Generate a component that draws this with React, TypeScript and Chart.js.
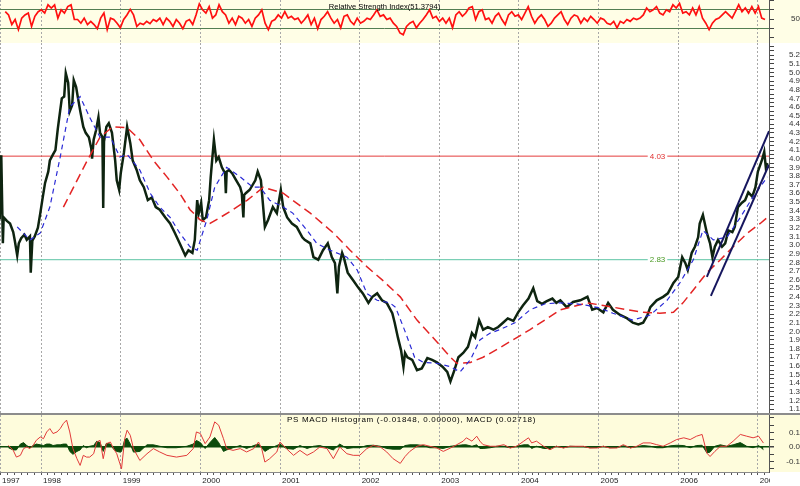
import React, { useEffect, useRef } from "react";
import { Chart, registerables } from "chart.js";

Chart.register(...registerables);

// ---------- time axis ----------
const X_MIN = 1997.484;
const X_MAX = 2007.14;
const FIRST_YEAR_LABEL = "1997";
const YEAR_TICKS = [1998, 1999, 2000, 2001, 2002, 2003, 2004, 2005, 2006, 2007];

// ---------- titles ----------
const RSI_TITLE = "Relative Strength Index(51.3794)";
const MACD_TITLE = "PS MACD Histogram (-0.01848, 0.00000), MACD (0.02718)";

// ---------- price panel ----------
const priceDates = [
  1997.48, 1997.50, 1997.52, 1997.53, 1997.57, 1997.61, 1997.65, 1997.67, 1997.70, 1997.72,
  1997.75, 1997.79, 1997.82, 1997.86, 1997.87, 1997.89, 1997.92, 1997.96, 1997.99, 1998.02,
  1998.05, 1998.09, 1998.11, 1998.15, 1998.18, 1998.21, 1998.24, 1998.26, 1998.29, 1998.31,
  1998.34, 1998.36, 1998.39, 1998.41, 1998.44, 1998.46, 1998.49, 1998.53, 1998.56, 1998.60,
  1998.63, 1998.64, 1998.66, 1998.69, 1998.72, 1998.74, 1998.77, 1998.78, 1998.79, 1998.82,
  1998.85, 1998.89, 1998.93, 1998.95, 1998.98, 1999.00, 1999.04, 1999.08, 1999.12, 1999.15,
  1999.20, 1999.24, 1999.29, 1999.34, 1999.39, 1999.44, 1999.49, 1999.56, 1999.62, 1999.68,
  1999.74, 1999.81, 1999.85, 1999.90, 1999.93, 1999.96, 1999.98, 2000.01, 2000.03, 2000.07,
  2000.11, 2000.13, 2000.17, 2000.20, 2000.23, 2000.27, 2000.31, 2000.32, 2000.33, 2000.36,
  2000.40, 2000.45, 2000.50, 2000.52, 2000.54, 2000.55, 2000.57, 2000.62, 2000.69, 2000.72,
  2000.76, 2000.81, 2000.85, 2000.91, 2000.96, 2001.01, 2001.04, 2001.09, 2001.15, 2001.21,
  2001.28, 2001.31, 2001.38, 2001.42, 2001.48, 2001.54, 2001.60, 2001.65, 2001.69, 2001.72,
  2001.74, 2001.78, 2001.80, 2001.85, 2001.92, 2001.98, 2002.04, 2002.11, 2002.16, 2002.22,
  2002.28, 2002.34, 2002.41, 2002.44, 2002.48, 2002.52, 2002.55, 2002.57, 2002.60, 2002.66,
  2002.72, 2002.78, 2002.85, 2002.91, 2002.97, 2003.04, 2003.10, 2003.14, 2003.19, 2003.24,
  2003.30, 2003.36, 2003.41, 2003.45, 2003.50, 2003.55, 2003.61, 2003.68, 2003.74, 2003.80,
  2003.86, 2003.93, 2003.99, 2004.05, 2004.12, 2004.18, 2004.23, 2004.29, 2004.35, 2004.42,
  2004.47, 2004.52, 2004.60, 2004.68, 2004.77, 2004.86, 2004.92, 2004.98, 2005.06, 2005.12,
  2005.18, 2005.27, 2005.36, 2005.43, 2005.50, 2005.56, 2005.61, 2005.65, 2005.73, 2005.81,
  2005.87, 2005.94, 2006.00, 2006.05, 2006.09, 2006.12, 2006.17, 2006.21, 2006.25, 2006.27,
  2006.31, 2006.36, 2006.40, 2006.43, 2006.46, 2006.50, 2006.55, 2006.59, 2006.63, 2006.68,
  2006.71, 2006.75, 2006.80, 2006.84, 2006.88, 2006.93, 2006.97, 2007.00, 2007.05, 2007.08,
  2007.10, 2007.12,
];
const priceValues = [
  3.30, 4.04, 3.02, 3.32, 3.28, 3.25, 3.15, 3.05, 2.88, 3.02,
  3.08, 3.12, 3.06, 3.10, 2.68, 3.05, 3.10, 3.20, 3.37, 3.55,
  3.72, 3.85, 3.98, 4.05, 4.10, 4.35, 4.56, 4.70, 4.72, 4.99,
  4.88, 4.55, 4.62, 4.91, 4.83, 4.72, 4.56, 4.37, 4.30, 4.25,
  4.12, 4.00, 4.22, 4.33, 4.48, 4.30, 4.25, 3.43, 4.20, 4.37,
  4.41, 4.30, 3.98, 3.75, 3.64, 3.83, 4.07, 4.37, 4.18, 3.98,
  3.87, 3.75, 3.67, 3.52, 3.55, 3.44, 3.41, 3.32, 3.25, 3.14,
  3.02, 2.88, 2.94, 2.91, 3.06, 3.52, 3.37, 3.49, 3.29, 3.32,
  3.52, 3.79, 4.22, 3.98, 4.02, 3.90, 3.83, 3.60, 3.85, 3.87,
  3.83, 3.75, 3.67, 3.60, 3.32, 3.58, 3.60, 3.64, 3.75, 3.85,
  3.75, 3.21, 3.29, 3.44, 3.37, 3.64, 3.44, 3.32, 3.25, 3.21,
  3.09, 3.06, 3.02, 2.86, 2.83, 2.94, 3.02, 2.86, 2.79, 2.44,
  2.75, 2.91, 2.86, 2.68, 2.59, 2.51, 2.44, 2.33, 2.40, 2.44,
  2.36, 2.33, 2.21, 2.10, 1.93, 1.78, 1.59, 1.75, 1.70, 1.67,
  1.55, 1.57, 1.69, 1.67, 1.64, 1.59, 1.53, 1.42, 1.55, 1.70,
  1.75, 1.82, 1.98, 1.93, 2.13, 2.02, 2.05, 2.02, 2.05, 2.10,
  2.15, 2.12, 2.22, 2.30, 2.38, 2.50, 2.35, 2.32, 2.35, 2.38,
  2.33, 2.36, 2.28, 2.34, 2.36, 2.40, 2.25, 2.27, 2.22, 2.33,
  2.25, 2.19, 2.15, 2.10, 2.08, 2.10, 2.18, 2.28, 2.36, 2.40,
  2.44, 2.56, 2.63, 2.86, 2.79, 2.71, 2.91, 2.98, 3.09, 3.25,
  3.35, 3.14, 3.02, 2.86, 2.98, 3.06, 2.98, 3.02, 3.17, 3.15,
  3.21, 3.44, 3.49, 3.52, 3.61, 3.56, 3.67, 3.85, 3.98, 4.08,
  3.90, 3.95,
];

const shortMaDates = [
  1997.70, 1997.86, 1997.99, 1998.11, 1998.24, 1998.36, 1998.49, 1998.61, 1998.74, 1998.87,
  1998.99, 1999.08, 1999.24, 1999.37, 1999.49, 1999.62, 1999.74, 1999.87, 1999.96, 2000.08,
  2000.18, 2000.33, 2000.50, 2000.66, 2000.75, 2000.87, 2001.04, 2001.16, 2001.34, 2001.46,
  2001.63, 2001.84, 2001.97, 2002.09, 2002.22, 2002.38, 2002.45, 2002.57, 2002.69, 2002.80,
  2002.97, 2003.14, 2003.26, 2003.39, 2003.51, 2003.64, 2003.76, 2003.95, 2004.14, 2004.33,
  2004.52, 2004.71, 2004.86, 2005.02, 2005.18, 2005.43, 2005.65, 2005.86, 2006.02, 2006.19,
  2006.31, 2006.44, 2006.61, 2006.78, 2006.94, 2007.12,
];
const shortMaValues = [
  3.21, 3.06, 3.14, 3.44, 4.02, 4.60, 4.72, 4.48, 4.25, 4.25,
  4.02, 4.05, 3.87, 3.60, 3.44, 3.32, 3.14, 2.98, 2.94, 3.29,
  3.67, 3.90, 3.79, 3.67, 3.67, 3.52, 3.44, 3.37, 3.17, 3.02,
  2.94, 2.86, 2.71, 2.44, 2.36, 2.33, 2.28, 2.00, 1.70, 1.64,
  1.63, 1.59, 1.53, 1.67, 1.90, 1.98, 2.02, 2.10, 2.25, 2.32,
  2.33, 2.32, 2.30, 2.27, 2.21, 2.13, 2.19, 2.36, 2.56, 2.83,
  3.17, 3.06, 3.09, 3.32, 3.56, 3.79,
];

const longMaDates = [
  1998.28, 1998.58, 1998.74, 1998.90, 1999.08, 1999.24, 1999.41, 1999.58, 1999.74, 1999.87,
  2000.00, 2000.12, 2000.25, 2000.41, 2000.59, 2000.79, 2001.04, 2001.38, 2001.67, 2001.88,
  2002.09, 2002.29, 2002.51, 2002.72, 2002.92, 2003.14, 2003.22, 2003.39, 2003.55, 2003.76,
  2004.14, 2004.52, 2004.86, 2005.06, 2005.36, 2005.56, 2005.77, 2005.94, 2006.06, 2006.19,
  2006.36, 2006.53, 2006.69, 2006.87, 2007.03, 2007.12,
];
const longMaValues = [
  3.44, 3.98, 4.25, 4.37, 4.36, 4.22, 3.98, 3.79, 3.60, 3.41,
  3.29, 3.25, 3.32, 3.41, 3.52, 3.67, 3.60, 3.37, 3.14, 2.94,
  2.75, 2.59, 2.40, 2.13, 1.93, 1.70, 1.63, 1.64, 1.70, 1.81,
  2.02, 2.25, 2.33, 2.30, 2.25, 2.22, 2.21, 2.22, 2.33, 2.48,
  2.68, 2.83, 2.98, 3.14, 3.25, 3.32,
];

const RESISTANCE = 4.03;
const SUPPORT = 2.83;
const LEVEL_LABEL_AT = 2005.74;

const upperChannelDates = [2006.36, 2007.14];
const upperChannelValues = [2.63, 4.32];
const lowerChannelDates = [2006.41, 2007.14];
const lowerChannelValues = [2.41, 3.93];

const PRICE_MIN = 1.054;
const PRICE_MAX = 5.341;

// ---------- RSI panel ----------
const RSI_START = 1997.55;
const RSI_END = 2007.09;
const rsiValues = [
  66, 59, 38, 49, 27, 52, 59, 63, 34, 56,
  66, 70, 63, 81, 74, 81, 52, 70, 63, 77,
  81, 49, 49, 41, 52, 38, 45, 38, 29, 52,
  63, 27, 52, 49, 41, 31, 49, 59, 71, 59,
  34, 41, 38, 45, 40, 49, 45, 52, 38, 52,
  45, 34, 49, 41, 29, 45, 49, 38, 59, 83,
  70, 63, 77, 52, 59, 81, 66, 59, 41, 52,
  38, 56, 52, 41, 49, 34, 52, 59, 70, 41,
  27, 45, 49, 59, 52, 66, 52, 56, 49, 52,
  41, 49, 59, 38, 52, 29, 49, 56, 66, 52,
  41, 49, 31, 56, 59, 45, 38, 52, 41, 45,
  52, 49, 59, 70, 56, 59, 49, 52, 41, 34,
  20,
  16, 34, 41, 45, 31, 41, 49, 59, 70, 52,
  56, 45, 52, 41, 52, 31, 59, 66, 56, 63,
  74, 77, 49, 66, 70, 49, 52, 41, 56, 63,
  49, 38, 59, 66, 56, 59, 49, 63, 77, 56,
  41, 52, 59, 49, 34, 41, 52, 59, 66, 49,
  38, 52, 59, 56, 41, 52, 45, 56, 49, 41,
  52, 49, 41, 38, 45, 31, 45, 41, 49, 45,
  52, 49, 52, 59, 74, 66, 70, 77, 63, 59,
  70, 66, 81, 74, 84, 63, 66, 59, 74, 59,
  77, 52, 41, 27, 41, 49, 52, 59, 66, 59,
  52, 66, 81, 66, 74, 63, 77, 63, 77, 52,
  49,
];
const RSI_MIN = -2;
const RSI_MAX = 91.4;
const RSI_TICKS = [10, 30, 50, 70, 90];
const RSI_BANDS = [30, 70];
const RSI_LABELS = ["50"];

// ---------- MACD panel ----------
const macdDates = [
  1997.59, 1997.65, 1997.69, 1997.74, 1997.78, 1997.82, 1997.86, 1997.90, 1997.94, 1997.99,
  1998.03, 1998.07, 1998.11, 1998.15, 1998.20, 1998.24, 1998.28, 1998.32, 1998.36, 1998.40,
  1998.45, 1998.49, 1998.53, 1998.57, 1998.61, 1998.66, 1998.70, 1998.74, 1998.78, 1998.82,
  1998.87, 1998.91, 1998.95, 1998.99, 1999.01, 1999.05, 1999.08, 1999.12, 1999.16, 1999.24,
  1999.33, 1999.41, 1999.49, 1999.58, 1999.70, 1999.83, 1999.91, 1999.95, 2000.00, 2000.06,
  2000.12, 2000.18, 2000.23, 2000.29, 2000.33, 2000.41, 2000.50, 2000.58, 2000.67, 2000.73,
  2000.77, 2000.81, 2000.87, 2000.96, 2001.00, 2001.08, 2001.17, 2001.25, 2001.34, 2001.42,
  2001.50, 2001.59, 2001.67, 2001.75, 2001.84, 2001.92, 2002.00, 2002.09, 2002.17, 2002.26,
  2002.34, 2002.42, 2002.51, 2002.57, 2002.63, 2002.72, 2002.80, 2002.88, 2002.97, 2003.05,
  2003.14, 2003.22, 2003.30, 2003.34, 2003.41, 2003.47, 2003.51, 2003.55, 2003.64, 2003.72,
  2003.81, 2003.89, 2003.97, 2004.06, 2004.12, 2004.16, 2004.22, 2004.31, 2004.39, 2004.47,
  2004.56, 2004.64, 2004.73, 2004.81, 2004.89, 2004.98, 2005.06, 2005.14, 2005.23, 2005.31,
  2005.40, 2005.48, 2005.56, 2005.65, 2005.73, 2005.81, 2005.90, 2005.98, 2006.07, 2006.15,
  2006.23, 2006.30, 2006.36, 2006.40, 2006.46, 2006.53, 2006.61, 2006.69, 2006.78, 2006.86,
  2006.94, 2007.01, 2007.07,
];
const macdValues = [
  0.011, -0.023, -0.069, -0.057, -0.011, 0.000, -0.011, 0.011, 0.046, 0.069,
  0.057, 0.103, 0.126, 0.092, 0.103, 0.126, 0.161, 0.184, 0.103, -0.011,
  -0.080, -0.126, -0.057, -0.069, -0.069, -0.046, 0.034, 0.046, -0.080, 0.023,
  0.034, -0.011, -0.046, -0.115, -0.149, 0.057, 0.115, 0.080, -0.011, -0.092,
  -0.046, -0.011, -0.034, -0.057, -0.069, -0.057, -0.011, 0.103, 0.092, 0.023,
  0.069, 0.172, 0.149, 0.057, -0.011, -0.023, -0.011, -0.034, -0.011, 0.034,
  -0.011, -0.103, -0.080, -0.034, 0.034, -0.011, -0.057, -0.023, -0.057, -0.034,
  0.000, -0.011, -0.080, 0.000, -0.046, -0.057, -0.057, -0.011, 0.011, 0.000,
  -0.034, -0.080, -0.112, -0.065, -0.030, 0.005, 0.016, 0.005, -0.007, -0.030,
  -0.007, 0.016, 0.040, 0.063, 0.040, 0.074, 0.040, 0.016, 0.005, 0.005,
  0.016, -0.007, 0.005, 0.040, 0.063, 0.028, 0.040, 0.005, -0.019, 0.005,
  -0.007, 0.005, 0.005, 0.005, -0.007, -0.007, 0.005, -0.007, -0.007, 0.016,
  -0.007, 0.005, 0.028, 0.028, 0.016, 0.005, 0.028, 0.051, 0.063, 0.051,
  0.074, 0.086, -0.042, -0.065, -0.030, 0.005, 0.005, 0.040, 0.086, 0.074,
  0.063, 0.074, 0.027,
];
const histogramValues = [
  -0.005, -0.02, -0.02, 0.02, 0.03, 0.01, -0.005, 0.01, 0.02, 0.015,
  0.01, 0.02, 0.02, 0.01, 0.015, 0.015, 0.02, 0.02, -0.03, -0.05,
  -0.03, -0.02, 0.01, -0.005, 0.005, 0.01, 0.04, 0.03, -0.03, 0.025,
  0.02, -0.015, -0.03, -0.035, -0.03, 0.05, 0.06, 0.02, -0.035, -0.03,
  0.015, 0.015, 0.005, -0.005, -0.005, 0.005, 0.02, 0.045, 0.03, -0.01,
  0.03, 0.065, 0.03, -0.03, -0.02, -0.005, 0.01, -0.01, 0.01, 0.02,
  -0.005, -0.03, -0.01, 0.01, 0.02, -0.01, -0.015, 0.01, -0.01, 0.005,
  0.01, -0.005, -0.02, 0.02, -0.01, -0.005, -0.005, 0.01, 0.012, 0.005,
  -0.01, -0.015, -0.015, 0.01, 0.015, 0.015, 0.01, -0.005, -0.005, -0.01,
  0.005, 0.01, 0.015, 0.015, 0.005, 0.015, -0.01, -0.01, -0.005, 0.005,
  0.005, -0.005, 0.005, 0.015, 0.015, -0.01, 0.005, -0.01, -0.01, 0.005,
  -0.005, 0.005, 0.003, 0.003, -0.005, -0.003, 0.005, -0.005, -0.003, 0.008,
  -0.005, 0.003, 0.01, 0.005, -0.005, -0.005, 0.008, 0.012, 0.01, -0.005,
  0.01, 0.012, -0.04, -0.035, 0.005, 0.015, 0.005, 0.015, 0.03, 0.005,
  -0.005, 0.01, -0.018,
];
const MACD_MIN = -0.171;
const MACD_MAX = 0.219;
const MACD_TICKS = [-0.15, -0.1, -0.05, 0, 0.05, 0.1, 0.15, 0.2];
const MACD_LABELS: [number, string][] = [[-0.1, "-0.1"], [0, "0.0"], [0.1, "0.1"]];

// ---------- price axis ----------
const PRICE_TICK_FIRST = 1.1;
const PRICE_TICK_LAST = 5.3;
const PRICE_LABEL_LAST = 5.2;

// ---------- styling ----------
const FONT = '"Liberation Sans", Arial, sans-serif';
const NONE = "rgba(0,0,0,0)";

const near = (a: number, b: number, eps = 1e-6) => Math.abs(a - b) < eps;
const pairs = (xs: number[], ys: number[]) => xs.map((x, i) => ({ x, y: ys[i] }));
const isYearTick = (v: number) => near(v, X_MIN) || YEAR_TICKS.some((y) => near(y, v));

function monthTicks() {
  const out: { value: number }[] = [{ value: X_MIN }];
  for (let k = 0; k < 12 * 11; k++) {
    const v = 1997 + k / 12;
    if (v > X_MIN + 0.03 && v <= X_MAX) {
      const yr = YEAR_TICKS.find((y) => near(y, v, 1e-4));
      out.push({ value: yr ?? v });
    }
  }
  return out;
}

function timeScale(withLabels: boolean) {
  return {
    type: "linear",
    min: X_MIN,
    max: X_MAX,
    bounds: "data",
    offset: false,
    afterBuildTicks: (s: any) => {
      s.ticks = withLabels
        ? monthTicks()
        : [{ value: X_MIN }, ...YEAR_TICKS.map((v) => ({ value: v }))];
    },
    afterFit: (s: any) => {
      s.height = withLabels ? 14 : 0;
      s.paddingLeft = 0;
      s.paddingRight = 0;
    },
    grid: {
      display: true,
      drawOnChartArea: true,
      drawTicks: withLabels,
      tickLength: 3,
      lineWidth: 1,
      color: (c: any) => (c.tick && isYearTick(c.tick.value) ? "#a8a8a8" : NONE),
      tickColor: "#555",
    },
    border: { display: withLabels, color: "#8a8a8a", width: 1, dash: [2, 2] },
    ticks: {
      display: withLabels,
      autoSkip: false,
      maxRotation: 0,
      minRotation: 0,
      align: "start",
      labelOffset: 2,
      padding: 1,
      color: "#222",
      font: { family: FONT, size: 8 },
      callback: (v: number) => {
        if (near(v, X_MIN)) return FIRST_YEAR_LABEL;
        const yr = YEAR_TICKS.find((y) => near(y, v));
        return yr !== undefined ? String(yr) : "";
      },
    },
  };
}

function valueScale(
  min: number,
  max: number,
  ticks: number[],
  label: (v: number) => string,
  padding: number,
  gridColor?: (v: number) => string,
  gridWidth?: (v: number) => number
) {
  return {
    type: "linear",
    position: "right",
    min,
    max,
    bounds: "data",
    afterBuildTicks: (s: any) => {
      s.ticks = ticks.map((v) => ({ value: v }));
    },
    afterFit: (s: any) => {
      s.width = 31;
      s.paddingTop = 0;
      s.paddingBottom = 0;
    },
    grid: {
      drawOnChartArea: !!gridColor,
      drawTicks: true,
      tickLength: 5,
      tickColor: "#444",
      color: (c: any) => (gridColor && c.tick ? gridColor(c.tick.value) : NONE),
      lineWidth: (c: any) => (gridWidth && c.tick ? gridWidth(c.tick.value) : 1),
    },
    border: { display: true, color: "#555", width: 1 },
    ticks: {
      autoSkip: false,
      padding,
      crossAlign: "far",
      color: "#333",
      font: { family: FONT, size: 8 },
      callback: (v: number) => label(v),
    },
  };
}

const decorPlugin = {
  id: "decor",
  beforeDraw(chart: any, _a: any, o: any) {
    const { ctx, chartArea, width, height } = chart;
    if (o.bg) {
      ctx.save();
      ctx.fillStyle = o.bg;
      ctx.fillRect(0, 0, width, o.bgToAxis ? chartArea.bottom : height);
      ctx.restore();
    }
    if (o.clip) {
      ctx.save();
      ctx.beginPath();
      ctx.rect(0, 0, chartArea.right + 1, height);
      ctx.rect(chartArea.right + 1, 0, width - chartArea.right, chartArea.bottom + 1);
      ctx.clip();
    }
  },
  afterDatasetsDraw(chart: any, _a: any, o: any) {
    if (!o.levels) return;
    const { ctx, scales } = chart;
    ctx.save();
    ctx.font = `8px ${FONT}`;
    ctx.textAlign = "center";
    ctx.textBaseline = "middle";
    for (const lv of o.levels) {
      const x = scales.x.getPixelForValue(lv.at);
      const y = scales.y.getPixelForValue(lv.value);
      const t = lv.value.toFixed(2);
      const w = ctx.measureText(t).width;
      ctx.fillStyle = "#ffffff";
      ctx.fillRect(x - w / 2 - 2, y - 4, w + 4, 8);
      ctx.fillStyle = lv.color;
      ctx.fillText(t, x, y + 0.5);
    }
    ctx.restore();
  },
  afterDraw(chart: any, _a: any, o: any) {
    const { ctx, chartArea } = chart;
    if (o.clip) ctx.restore();
    if (o.title) {
      ctx.save();
      ctx.font = `${o.titleSize || 8}px ${FONT}`;
      if (o.spacing) (ctx as any).letterSpacing = o.spacing;
      ctx.fillStyle = "#000";
      ctx.textAlign = "center";
      ctx.textBaseline = "middle";
      ctx.fillText(o.title, (chartArea.left + chartArea.right) / 2 + (o.dx || 0), o.ty);
      ctx.restore();
    }
  },
};

function baseOptions(decor: any, scales: any) {
  return {
    responsive: false,
    animation: false,
    events: [],
    layout: { padding: 0 },
    elements: { point: { radius: 0 }, line: { tension: 0 } },
    plugins: { legend: { display: false }, tooltip: { enabled: false }, decor },
    scales,
  };
}

const lineDs = (label: string, data: any[], color: string, width: number, order: number, extra: any = {}) => ({
  label,
  data,
  borderColor: color,
  backgroundColor: color,
  borderWidth: width,
  pointRadius: 0,
  fill: false,
  order,
  ...extra,
});

export default function App() {
  const rsiRef = useRef<HTMLCanvasElement>(null);
  const mainRef = useRef<HTMLCanvasElement>(null);
  const macdRef = useRef<HTMLCanvasElement>(null);

  useEffect(() => {
    const charts: Chart[] = [];

    const rsiPoints = rsiValues.map((v, i) => ({
      x: RSI_START + (i * (RSI_END - RSI_START)) / (rsiValues.length - 1),
      y: v,
    }));

    charts.push(
      new Chart(rsiRef.current as HTMLCanvasElement, {
        type: "line",
        data: { datasets: [lineDs("RSI", rsiPoints, "#ff1010", 1.7, 0)] },
        options: baseOptions(
          { bg: "#fffee6", title: RSI_TITLE, ty: 7, titleSize: 7.6 },
          {
            x: timeScale(false),
            y: valueScale(
              RSI_MIN,
              RSI_MAX,
              RSI_TICKS,
              (v) => (RSI_LABELS.includes(String(v)) ? String(v) : ""),
              13,
              (v) => (RSI_BANDS.some((b) => near(b, v)) ? "#527e52" : NONE),
              () => 1
            ),
          }
        ),
        plugins: [decorPlugin],
      } as any)
    );

    const priceTicks: number[] = [];
    for (let k = Math.round(PRICE_TICK_FIRST * 20); k <= Math.round(PRICE_TICK_LAST * 20); k++) priceTicks.push(k / 20);

    charts.push(
      new Chart(mainRef.current as HTMLCanvasElement, {
        type: "line",
        data: {
          datasets: [
            lineDs("Upper channel", pairs(upperChannelDates, upperChannelValues), "#16165e", 2, 0),
            lineDs("Lower channel", pairs(lowerChannelDates, lowerChannelValues), "#16165e", 2, 0),
            lineDs("Short MA", pairs(shortMaDates, shortMaValues), "#2a2ad6", 1.2, 1, { borderDash: [5, 4] }),
            lineDs("Long MA", pairs(longMaDates, longMaValues), "#e32424", 1.5, 2, { borderDash: [9, 5] }),
            lineDs("Price", pairs(priceDates, priceValues), "#0e2410", 2.5, 3),
            lineDs("Resistance", [{ x: X_MIN, y: RESISTANCE }, { x: X_MAX, y: RESISTANCE }], "#e43c3c", 1, 4),
            lineDs("Support", [{ x: X_MIN, y: SUPPORT }, { x: X_MAX, y: SUPPORT }], "#5cc4a4", 1, 4),
          ],
        },
        options: baseOptions(
          {
            levels: [
              { value: RESISTANCE, at: LEVEL_LABEL_AT, color: "#e03030" },
              { value: SUPPORT, at: LEVEL_LABEL_AT, color: "#4a9a24" },
            ],
          },
          {
            x: timeScale(false),
            y: valueScale(
              PRICE_MIN,
              PRICE_MAX,
              priceTicks,
              (v) => {
                const t = Math.round(v * 10);
                return near(t, v * 10, 1e-4) && v <= PRICE_LABEL_LAST + 1e-6 ? v.toFixed(1) : "";
              },
              11
            ),
          }
        ),
        plugins: [decorPlugin],
      } as any)
    );

    charts.push(
      new Chart(macdRef.current as HTMLCanvasElement, {
        type: "line",
        data: {
          datasets: [
            lineDs("MACD", pairs(macdDates, macdValues), "#e23a3a", 1, 0),
            lineDs("Histogram", pairs(macdDates, histogramValues), "#0b4a0b", 1, 1, {
              fill: "origin",
              backgroundColor: "#0b4a0b",
            }),
          ],
        },
        options: baseOptions(
          { bg: "#fefcdc", bgToAxis: true, clip: true, title: MACD_TITLE, ty: 5, dx: 27, spacing: "0.7px" },
          {
            x: timeScale(true),
            y: valueScale(
              MACD_MIN,
              MACD_MAX,
              MACD_TICKS,
              (v) => {
                const hit = MACD_LABELS.find(([n]) => near(n, v));
                return hit ? hit[1] : "";
              },
              8,
              (v) => (near(v, 0) ? "#0b4a0b" : NONE),
              (v) => (near(v, 0) ? 1.5 : 1)
            ),
          }
        ),
        plugins: [decorPlugin],
      } as any)
    );

    return () => charts.forEach((c) => c.destroy());
  }, []);

  const box = (top: number, height: number): React.CSSProperties => ({
    position: "absolute",
    left: 0,
    top,
    width: 800,
    height,
  });

  return (
    <div style={{ position: "absolute", left: 0, top: 0, width: 800, height: 486, background: "#ffffff", overflow: "hidden" }}>
      <div style={box(0, 43)}>
        <canvas ref={rsiRef} width={800} height={43} style={{ display: "block", width: 800, height: 43 }} />
      </div>
      <div style={box(43, 370)}>
        <canvas ref={mainRef} width={800} height={370} style={{ display: "block", width: 800, height: 370 }} />
      </div>
      <div style={{ ...box(413, 2), background: "#8c8c8c" }} />
      <div style={box(415, 71)}>
        <canvas ref={macdRef} width={800} height={71} style={{ display: "block", width: 800, height: 71 }} />
      </div>
    </div>
  );
}
